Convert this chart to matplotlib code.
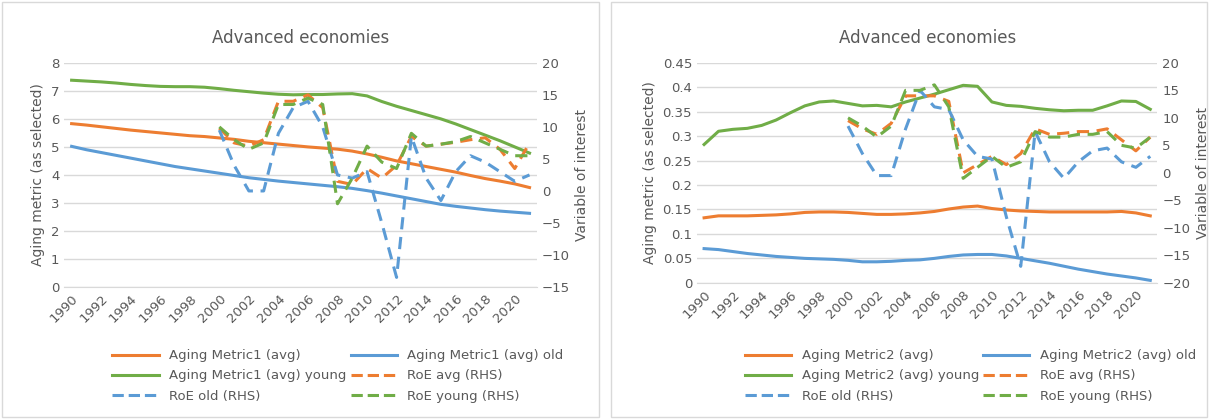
import numpy as np
import matplotlib.pyplot as plt
from matplotlib.patches import Rectangle

years = list(range(1990, 2022))
roe_years = list(range(2000, 2022))

# left panel: Aging Metric1
m1_avg = [5.83, 5.78, 5.72, 5.66, 5.6, 5.55, 5.5, 5.45, 5.4, 5.37, 5.32, 5.27, 5.2, 5.15, 5.1, 5.05, 5.0, 4.96, 4.92, 4.85, 4.75, 4.63, 4.5, 4.4, 4.3, 4.2, 4.1, 3.98, 3.87, 3.78, 3.68, 3.55]
m1_old = [5.02, 4.9, 4.8, 4.7, 4.6, 4.5, 4.4, 4.3, 4.22, 4.14, 4.06, 3.98, 3.9, 3.84, 3.78, 3.73, 3.68, 3.63, 3.58, 3.52, 3.44, 3.35, 3.25, 3.15, 3.05, 2.95, 2.88, 2.82, 2.76, 2.71, 2.67, 2.63]
m1_young = [7.38, 7.35, 7.32, 7.28, 7.23, 7.19, 7.16, 7.15, 7.15, 7.13, 7.08, 7.02, 6.97, 6.92, 6.88, 6.86, 6.87, 6.87, 6.89, 6.9, 6.82, 6.62, 6.45, 6.3, 6.15, 6.0, 5.82, 5.62, 5.42, 5.22, 5.0, 4.78]
roe1_avg = [9.8, 7.5, 7.0, 8.0, 14.0, 14.0, 15.0, 13.0, 1.5, 1.0, 3.5, 2.0, 4.0, 8.5, 7.0, 7.3, 7.6, 8.0, 8.3, 6.5, 3.5, 7.5]
roe1_old = [9.5, 4.0, 0.0, 0.0, 9.0, 13.0, 14.0, 10.0, 2.5, 2.0, 3.0, -5.0, -13.5, 8.5, 2.0, -1.5, 3.0, 5.5, 4.5, 3.0, 1.5, 2.5]
roe1_young = [10.0, 8.0, 6.5, 7.5, 13.5, 13.5, 14.5, 13.5, -2.0, 2.0, 7.0, 4.5, 3.5, 9.0, 7.0, 7.3, 7.7, 8.5, 7.5, 6.5, 5.5, 5.5]

# right panel: Aging Metric2
m2_avg = [0.133, 0.137, 0.137, 0.137, 0.138, 0.139, 0.141, 0.144, 0.145, 0.145, 0.144, 0.142, 0.140, 0.140, 0.141, 0.143, 0.146, 0.151, 0.155, 0.157, 0.152, 0.149, 0.147, 0.146, 0.145, 0.145, 0.145, 0.145, 0.145, 0.146, 0.143, 0.137]
m2_old = [0.070, 0.068, 0.064, 0.060, 0.057, 0.054, 0.052, 0.050, 0.049, 0.048, 0.046, 0.043, 0.043, 0.044, 0.046, 0.047, 0.050, 0.054, 0.057, 0.058, 0.058, 0.055, 0.050, 0.045, 0.040, 0.034, 0.028, 0.023, 0.018, 0.014, 0.010, 0.005]
m2_young = [0.283, 0.310, 0.314, 0.316, 0.322, 0.333, 0.348, 0.362, 0.370, 0.372, 0.367, 0.362, 0.363, 0.360, 0.370, 0.378, 0.386, 0.395, 0.404, 0.402, 0.370, 0.363, 0.361, 0.357, 0.354, 0.352, 0.353, 0.353, 0.362, 0.372, 0.371, 0.355]
roe2_avg = [9.5, 8.0, 7.0, 9.0, 14.0, 14.0, 14.0, 13.0, 0.0, 1.5, 3.0, 1.5, 3.5, 8.0, 7.0, 7.2, 7.5, 7.5, 8.0, 6.0, 4.0, 6.5]
roe2_old = [8.5, 3.5, -0.5, -0.5, 8.0, 15.0, 12.0, 11.5, 6.0, 3.0, 2.5, -8.0, -17.0, 7.5, 2.0, -1.0, 2.0, 4.0, 4.5, 2.0, 1.0, 3.0]
roe2_young = [10.0, 8.5, 6.5, 8.5, 15.0, 15.0, 16.0, 12.0, -1.0, 1.0, 3.0, 1.0, 2.0, 7.5, 6.5, 6.5, 7.0, 7.0, 7.5, 5.0, 4.5, 6.5]

ORANGE = "#ED7D31"
BLUE = "#5B9BD5"
GREEN = "#70AD47"
GRAY = "#595959"

fig = plt.figure(figsize=(12.12, 4.19), dpi=100)
for x0 in (0.002, 0.504):
    fig.patches.append(Rectangle((x0, 0.005), 0.492, 0.99, transform=fig.transFigure,
                                 fill=False, edgecolor="#D9D9D9", lw=1))


def panel(rect, name, avg, old, young, r_avg, r_old, r_young, ylim, ystep, rlim, yfmt):
    ax = fig.add_axes(rect)
    ax2 = ax.twinx()
    ax.plot(years, avg, color=ORANGE, lw=2.2)
    ax.plot(years, old, color=BLUE, lw=2.2)
    ax.plot(years, young, color=GREEN, lw=2.2)
    ax2.plot(roe_years, r_avg, color=ORANGE, lw=2.2, ls=(0, (4, 2.5)))
    ax2.plot(roe_years, r_old, color=BLUE, lw=2.2, ls=(0, (4, 2.5)))
    ax2.plot(roe_years, r_young, color=GREEN, lw=2.2, ls=(0, (4, 2.5)))
    ax.set_ylim(*ylim)
    ax.set_yticks(np.arange(ylim[0], ylim[1] + ystep / 2, ystep))
    ax.set_yticklabels([yfmt(v) for v in ax.get_yticks()])
    ax2.set_ylim(*rlim)
    ax2.set_yticks(range(rlim[0], rlim[1] + 1, 5))
    ax.set_xlim(1989.5, 2021.5)
    ax.set_xticks(years[::2])
    ax.set_xticklabels([str(y) for y in years[::2]], rotation=45, ha="right", rotation_mode="anchor")
    ax.grid(axis="y", color="#D9D9D9", lw=1)
    ax.set_axisbelow(True)
    for a in (ax, ax2):
        for s in a.spines.values():
            s.set_visible(False)
        a.tick_params(length=0, colors=GRAY, labelsize=9.5)
    ax.spines["bottom"].set_visible(True)
    ax.spines["bottom"].set_color("#D9D9D9")
    ax.set_ylabel("Aging metric (as selected)", color=GRAY, fontsize=10)
    ax2.set_ylabel("Variable of interest", color=GRAY, fontsize=10)
    ax.set_title("Advanced economies", color=GRAY, fontsize=12, pad=14)
    # legend, filled column-wise so rows read like the original
    labels = [(f"{name} (avg)", ORANGE, "-"), (f"{name} (avg) young", GREEN, "-"),
              ("RoE old (RHS)", BLUE, "--"), (f"{name} (avg) old", BLUE, "-"),
              ("RoE avg (RHS)", ORANGE, "--"), ("RoE young (RHS)", GREEN, "--")]
    handles = [plt.Line2D([], [], color=c, ls=l, lw=2.2) for _, c, l in labels]
    fig.legend(handles, [t for t, _, _ in labels], ncol=2, frameon=False,
               loc="upper left", bbox_to_anchor=(rect[0] + 0.03, 0.195), fontsize=9.5,
               labelcolor=GRAY, handlelength=3.5, columnspacing=0.3,
               labelspacing=0.55)
    return ax


panel([0.053, 0.315, 0.39, 0.535], "Aging Metric1", m1_avg, m1_old, m1_young,
      roe1_avg, roe1_old, roe1_young, (0, 8), 1, (-15, 20), lambda v: f"{v:g}")
panel([0.575, 0.325, 0.38, 0.525], "Aging Metric2", m2_avg, m2_old, m2_young,
      roe2_avg, roe2_old, roe2_young, (0, 0.45), 0.05, (-20, 20), lambda v: f"{v:.2f}".rstrip("0").rstrip(".") if v else "0")

fig.savefig("out.png", dpi=100)
